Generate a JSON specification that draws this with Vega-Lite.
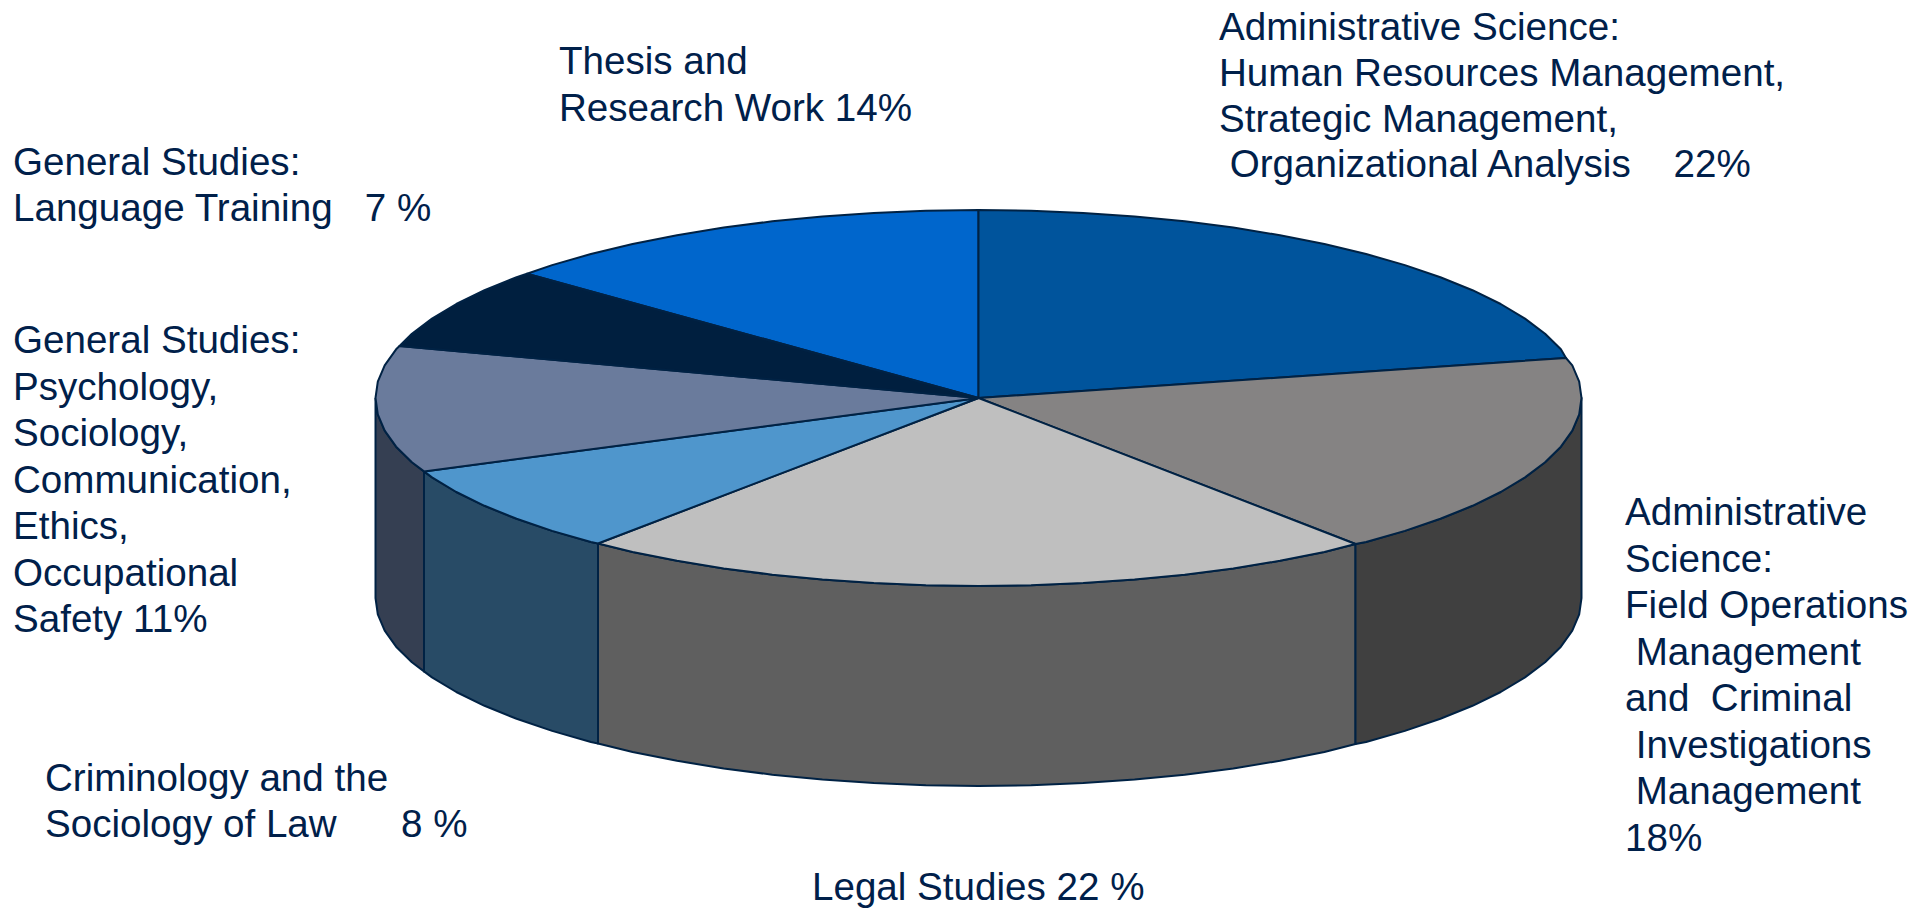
{"$schema":"https://vega.github.io/schema/vega-lite/v6.json","width":1932,"height":914,"autosize":{"type":"fit","contains":"padding"},"padding":0,"background":"white","view":{"stroke":null},
"layer":[
{"data":{"values":[
{"p":"Side A","n":1,"x":375.5,"y":398},{"p":"Side A","n":2,"x":377.8,"y":414.4},{"p":"Side A","n":3,"x":384.7,"y":430.6},{"p":"Side A","n":4,"x":396.1,"y":446.7},{"p":"Side A","n":5,"x":411.9,"y":462.3},{"p":"Side A","n":6,"x":424,"y":471.4},{"p":"Side A","n":7,"x":424,"y":671.4},{"p":"Side A","n":8,"x":411.9,"y":662.3},{"p":"Side A","n":9,"x":396.1,"y":646.7},{"p":"Side A","n":10,"x":384.7,"y":630.6},{"p":"Side A","n":11,"x":377.8,"y":614.4},{"p":"Side A","n":12,"x":375.5,"y":598},{"p":"Side A","n":13,"x":375.5,"y":398},
{"p":"Side B","n":1,"x":424,"y":471.4},{"p":"Side B","n":2,"x":432,"y":477.4},{"p":"Side B","n":3,"x":456.3,"y":492},{"p":"Side B","n":4,"x":484.5,"y":505.8},{"p":"Side B","n":5,"x":516.6,"y":518.8},{"p":"Side B","n":6,"x":552.1,"y":530.9},{"p":"Side B","n":7,"x":590.9,"y":542},{"p":"Side B","n":8,"x":598,"y":543.5},{"p":"Side B","n":9,"x":598,"y":743.5},{"p":"Side B","n":10,"x":590.9,"y":742},{"p":"Side B","n":11,"x":552.1,"y":730.9},{"p":"Side B","n":12,"x":516.6,"y":718.8},{"p":"Side B","n":13,"x":484.5,"y":705.8},{"p":"Side B","n":14,"x":456.3,"y":692},{"p":"Side B","n":15,"x":432,"y":677.4},{"p":"Side B","n":16,"x":424,"y":671.4},{"p":"Side B","n":17,"x":424,"y":471.4},
{"p":"Side C","n":1,"x":598,"y":543.5},{"p":"Side C","n":2,"x":632.6,"y":552},{"p":"Side C","n":3,"x":677,"y":560.8},{"p":"Side C","n":4,"x":723.7,"y":568.4},{"p":"Side C","n":5,"x":772.3,"y":574.7},{"p":"Side C","n":6,"x":822.4,"y":579.6},{"p":"Side C","n":7,"x":873.8,"y":583.1},{"p":"Side C","n":8,"x":925.9,"y":585.3},{"p":"Side C","n":9,"x":978.5,"y":586},{"p":"Side C","n":10,"x":1031.1,"y":585.3},{"p":"Side C","n":11,"x":1083.2,"y":583.1},{"p":"Side C","n":12,"x":1134.6,"y":579.6},{"p":"Side C","n":13,"x":1184.7,"y":574.7},{"p":"Side C","n":14,"x":1233.3,"y":568.4},{"p":"Side C","n":15,"x":1280,"y":560.8},{"p":"Side C","n":16,"x":1324.4,"y":552},{"p":"Side C","n":17,"x":1355.5,"y":544},{"p":"Side C","n":18,"x":1355.5,"y":744},{"p":"Side C","n":19,"x":1324.4,"y":752},{"p":"Side C","n":20,"x":1280,"y":760.8},{"p":"Side C","n":21,"x":1233.3,"y":768.4},{"p":"Side C","n":22,"x":1184.7,"y":774.7},{"p":"Side C","n":23,"x":1134.6,"y":779.6},{"p":"Side C","n":24,"x":1083.2,"y":783.1},{"p":"Side C","n":25,"x":1031.1,"y":785.3},{"p":"Side C","n":26,"x":978.5,"y":786},{"p":"Side C","n":27,"x":925.9,"y":785.3},{"p":"Side C","n":28,"x":873.8,"y":783.1},{"p":"Side C","n":29,"x":822.4,"y":779.6},{"p":"Side C","n":30,"x":772.3,"y":774.7},{"p":"Side C","n":31,"x":723.7,"y":768.4},{"p":"Side C","n":32,"x":677,"y":760.8},{"p":"Side C","n":33,"x":632.6,"y":752},{"p":"Side C","n":34,"x":598,"y":743.5},{"p":"Side C","n":35,"x":598,"y":543.5},
{"p":"Side D","n":1,"x":1355.5,"y":544},{"p":"Side D","n":2,"x":1366.1,"y":542},{"p":"Side D","n":3,"x":1404.9,"y":530.9},{"p":"Side D","n":4,"x":1440.4,"y":518.8},{"p":"Side D","n":5,"x":1472.5,"y":505.8},{"p":"Side D","n":6,"x":1500.7,"y":492},{"p":"Side D","n":7,"x":1525,"y":477.4},{"p":"Side D","n":8,"x":1545.1,"y":462.3},{"p":"Side D","n":9,"x":1560.9,"y":446.7},{"p":"Side D","n":10,"x":1572.3,"y":430.6},{"p":"Side D","n":11,"x":1579.2,"y":414.4},{"p":"Side D","n":12,"x":1581.5,"y":398},{"p":"Side D","n":13,"x":1581.5,"y":598},{"p":"Side D","n":14,"x":1579.2,"y":614.4},{"p":"Side D","n":15,"x":1572.3,"y":630.6},{"p":"Side D","n":16,"x":1560.9,"y":646.7},{"p":"Side D","n":17,"x":1545.1,"y":662.3},{"p":"Side D","n":18,"x":1525,"y":677.4},{"p":"Side D","n":19,"x":1500.7,"y":692},{"p":"Side D","n":20,"x":1472.5,"y":705.8},{"p":"Side D","n":21,"x":1440.4,"y":718.8},{"p":"Side D","n":22,"x":1404.9,"y":730.9},{"p":"Side D","n":23,"x":1366.1,"y":742},{"p":"Side D","n":24,"x":1355.5,"y":744},{"p":"Side D","n":25,"x":1355.5,"y":544},
{"p":"Thesis","n":1,"x":978.5,"y":398},{"p":"Thesis","n":2,"x":527,"y":273.7},{"p":"Thesis","n":3,"x":552.1,"y":265.1},{"p":"Thesis","n":4,"x":590.9,"y":254},{"p":"Thesis","n":5,"x":632.6,"y":244},{"p":"Thesis","n":6,"x":677,"y":235.2},{"p":"Thesis","n":7,"x":723.7,"y":227.6},{"p":"Thesis","n":8,"x":772.3,"y":221.3},{"p":"Thesis","n":9,"x":822.4,"y":216.4},{"p":"Thesis","n":10,"x":873.8,"y":212.9},{"p":"Thesis","n":11,"x":925.9,"y":210.7},{"p":"Thesis","n":12,"x":978.5,"y":210},{"p":"Thesis","n":13,"x":978.5,"y":398},
{"p":"Administrative HR","n":1,"x":978.5,"y":398},{"p":"Administrative HR","n":2,"x":978.5,"y":210},{"p":"Administrative HR","n":3,"x":1031.1,"y":210.7},{"p":"Administrative HR","n":4,"x":1083.2,"y":212.9},{"p":"Administrative HR","n":5,"x":1134.6,"y":216.4},{"p":"Administrative HR","n":6,"x":1184.7,"y":221.3},{"p":"Administrative HR","n":7,"x":1233.3,"y":227.6},{"p":"Administrative HR","n":8,"x":1280,"y":235.2},{"p":"Administrative HR","n":9,"x":1324.4,"y":244},{"p":"Administrative HR","n":10,"x":1366.1,"y":254},{"p":"Administrative HR","n":11,"x":1404.9,"y":265.1},{"p":"Administrative HR","n":12,"x":1440.4,"y":277.2},{"p":"Administrative HR","n":13,"x":1472.5,"y":290.2},{"p":"Administrative HR","n":14,"x":1500.7,"y":304},{"p":"Administrative HR","n":15,"x":1525,"y":318.6},{"p":"Administrative HR","n":16,"x":1545.1,"y":333.7},{"p":"Administrative HR","n":17,"x":1560.9,"y":349.3},{"p":"Administrative HR","n":18,"x":1566,"y":358},{"p":"Administrative HR","n":19,"x":978.5,"y":398},
{"p":"Administrative Field","n":1,"x":978.5,"y":398},{"p":"Administrative Field","n":2,"x":1566,"y":358},{"p":"Administrative Field","n":3,"x":1572.3,"y":365.4},{"p":"Administrative Field","n":4,"x":1579.2,"y":381.6},{"p":"Administrative Field","n":5,"x":1581.5,"y":398},{"p":"Administrative Field","n":6,"x":1579.2,"y":414.4},{"p":"Administrative Field","n":7,"x":1572.3,"y":430.6},{"p":"Administrative Field","n":8,"x":1560.9,"y":446.7},{"p":"Administrative Field","n":9,"x":1545.1,"y":462.3},{"p":"Administrative Field","n":10,"x":1525,"y":477.4},{"p":"Administrative Field","n":11,"x":1500.7,"y":492},{"p":"Administrative Field","n":12,"x":1472.5,"y":505.8},{"p":"Administrative Field","n":13,"x":1440.4,"y":518.8},{"p":"Administrative Field","n":14,"x":1404.9,"y":530.9},{"p":"Administrative Field","n":15,"x":1366.1,"y":542},{"p":"Administrative Field","n":16,"x":1355.5,"y":544},{"p":"Administrative Field","n":17,"x":978.5,"y":398},
{"p":"Legal","n":1,"x":978.5,"y":398},{"p":"Legal","n":2,"x":1355.5,"y":544},{"p":"Legal","n":3,"x":1324.4,"y":552},{"p":"Legal","n":4,"x":1280,"y":560.8},{"p":"Legal","n":5,"x":1233.3,"y":568.4},{"p":"Legal","n":6,"x":1184.7,"y":574.7},{"p":"Legal","n":7,"x":1134.6,"y":579.6},{"p":"Legal","n":8,"x":1083.2,"y":583.1},{"p":"Legal","n":9,"x":1031.1,"y":585.3},{"p":"Legal","n":10,"x":978.5,"y":586},{"p":"Legal","n":11,"x":925.9,"y":585.3},{"p":"Legal","n":12,"x":873.8,"y":583.1},{"p":"Legal","n":13,"x":822.4,"y":579.6},{"p":"Legal","n":14,"x":772.3,"y":574.7},{"p":"Legal","n":15,"x":723.7,"y":568.4},{"p":"Legal","n":16,"x":677,"y":560.8},{"p":"Legal","n":17,"x":632.6,"y":552},{"p":"Legal","n":18,"x":598,"y":543.5},{"p":"Legal","n":19,"x":978.5,"y":398},
{"p":"Criminology","n":1,"x":978.5,"y":398},{"p":"Criminology","n":2,"x":598,"y":543.5},{"p":"Criminology","n":3,"x":590.9,"y":542},{"p":"Criminology","n":4,"x":552.1,"y":530.9},{"p":"Criminology","n":5,"x":516.6,"y":518.8},{"p":"Criminology","n":6,"x":484.5,"y":505.8},{"p":"Criminology","n":7,"x":456.3,"y":492},{"p":"Criminology","n":8,"x":432,"y":477.4},{"p":"Criminology","n":9,"x":424,"y":471.4},{"p":"Criminology","n":10,"x":978.5,"y":398},
{"p":"General Psychology","n":1,"x":978.5,"y":398},{"p":"General Psychology","n":2,"x":424,"y":471.4},{"p":"General Psychology","n":3,"x":411.9,"y":462.3},{"p":"General Psychology","n":4,"x":396.1,"y":446.7},{"p":"General Psychology","n":5,"x":384.7,"y":430.6},{"p":"General Psychology","n":6,"x":377.8,"y":414.4},{"p":"General Psychology","n":7,"x":375.5,"y":398},{"p":"General Psychology","n":8,"x":377.8,"y":381.6},{"p":"General Psychology","n":9,"x":384.7,"y":365.4},{"p":"General Psychology","n":10,"x":396.1,"y":349.3},{"p":"General Psychology","n":11,"x":399.5,"y":346},{"p":"General Psychology","n":12,"x":978.5,"y":398},
{"p":"General Language","n":1,"x":978.5,"y":398},{"p":"General Language","n":2,"x":399.5,"y":346},{"p":"General Language","n":3,"x":411.9,"y":333.7},{"p":"General Language","n":4,"x":432,"y":318.6},{"p":"General Language","n":5,"x":456.3,"y":304},{"p":"General Language","n":6,"x":484.5,"y":290.2},{"p":"General Language","n":7,"x":516.6,"y":277.2},{"p":"General Language","n":8,"x":527,"y":273.7},{"p":"General Language","n":9,"x":978.5,"y":398}
]},
"mark":{"type":"line","stroke":"#002244","strokeWidth":2,"strokeJoin":"round","interpolate":"linear"},
"encoding":{
"x":{"field":"x","type":"quantitative","scale":{"domain":[0,1932],"nice":false,"zero":false},"axis":null},
"y":{"field":"y","type":"quantitative","scale":{"domain":[914,0],"nice":false,"zero":false},"axis":null},
"order":{"field":"n","type":"quantitative"},
"fill":{"field":"p","type":"nominal","legend":null,"scale":{"domain":["Side A","Side B","Side C","Side D","Thesis","Administrative HR","Administrative Field","Legal","Criminology","General Psychology","General Language"],"range":["#353F52","#284B66","#5F5F5F","#404040","#0066CC","#00549C","#858383","#BFBFBF","#4F96CC","#6A7B9C","#001F3F"]}}
}},
{"data":{"values":[
{"label":"Administrative Science:\nHuman Resources Management,\nStrategic Management,\n\u200b\u00a0Organizational Analysis\u00a0\u00a0\u00a0\u00a022%","x":1219,"y":40},
{"label":"General Studies:\nLanguage Training\u00a0\u00a0\u00a07 %","x":13,"y":175},
{"label":"Criminology and the\nSociology of Law\u00a0\u00a0\u00a0\u00a0\u00a0\u00a08 %","x":45,"y":791},
{"label":"Legal Studies 22 %","x":812,"y":900}
]},
"mark":{"type":"text","align":"left","baseline":"alphabetic","font":"Liberation Sans","fontSize":38.6,"lineBreak":"\n","lineHeight":45.8,"color":"#00204A"},
"encoding":{
"x":{"field":"x","type":"quantitative","scale":{"domain":[0,1932],"nice":false,"zero":false},"axis":null},
"y":{"field":"y","type":"quantitative","scale":{"domain":[914,0],"nice":false,"zero":false},"axis":null},
"text":{"field":"label","type":"nominal"}
}},
{"data":{"values":[
{"label":"Thesis and\nResearch Work 14%","x":559,"y":74},
{"label":"General Studies:\nPsychology,\nSociology,\nCommunication,\nEthics,\nOccupational\nSafety 11%","x":13,"y":353},
{"label":"Administrative\nScience:\nField Operations\n\u200b\u00a0Management\nand\u00a0\u00a0Criminal\n\u200b\u00a0Investigations\n\u200b\u00a0Management\n18%","x":1625,"y":525}
]},
"mark":{"type":"text","align":"left","baseline":"alphabetic","font":"Liberation Sans","fontSize":38.6,"lineBreak":"\n","lineHeight":46.5,"color":"#00204A"},
"encoding":{
"x":{"field":"x","type":"quantitative","scale":{"domain":[0,1932],"nice":false,"zero":false},"axis":null},
"y":{"field":"y","type":"quantitative","scale":{"domain":[914,0],"nice":false,"zero":false},"axis":null},
"text":{"field":"label","type":"nominal"}
}}
]}
